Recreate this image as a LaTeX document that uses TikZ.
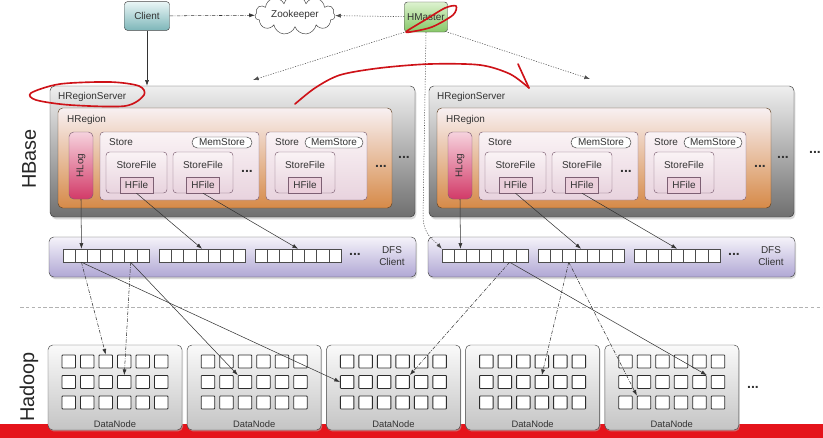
\documentclass[tikz,border=0pt]{standalone}
\usepackage{fontspec}
\setmainfont{Liberation Sans}
\usetikzlibrary{arrows.meta, positioning, calc, fit, shadows, shapes.symbols}

\definecolor{cliTop}{HTML}{EAF6F6}
\definecolor{cliBot}{HTML}{7DB6B9}
\definecolor{hmTop}{HTML}{DDF2CF}
\definecolor{hmBot}{HTML}{86C767}
\definecolor{srvTop}{HTML}{EFEFEF}
\definecolor{srvBot}{HTML}{6F6F6F}
\definecolor{regTop}{HTML}{F8F0F2}
\definecolor{regBot}{HTML}{D68A48}
\definecolor{stEdge}{HTML}{7D5F73}
\definecolor{stTop}{HTML}{FAF3F5}
\definecolor{stBot}{HTML}{E8D3DE}
\definecolor{hfFill}{HTML}{EBCFDB}
\definecolor{logTop}{HTML}{F6D2DD}
\definecolor{logBot}{HTML}{D23A68}
\definecolor{dfsTop}{HTML}{F5F3FA}
\definecolor{dfsBot}{HTML}{B0A7D4}
\definecolor{dnTop}{HTML}{FAFAFA}
\definecolor{dnBot}{HTML}{C4C4C4}
\definecolor{inkGray}{HTML}{333333}
\definecolor{barRed}{HTML}{E5141B}

\begin{document}
\begin{tikzpicture}[x=0.3mm, y=-0.3mm,
    every node/.style={font=\fontsize{8.5}{10}\selectfont, text=inkGray},
    topbox/.style={rectangle, rounded corners=2.5pt, draw=gray!55!black, minimum height=8.6mm, inner sep=0pt},
    srvbox/.style={rectangle, rounded corners=4pt, draw=gray!45!black, top color=srvTop, bottom color=srvBot, inner sep=0pt, drop shadow={shadow xshift=0.4mm, shadow yshift=-0.7mm, fill=gray!50, opacity=0.6}},
    regbox/.style={rectangle, rounded corners=4pt, draw=brown!50!black, top color=regTop, bottom color=regBot, inner sep=0pt},
    storebox/.style={rectangle, rounded corners=3pt, draw=stEdge, top color=stTop, bottom color=stBot, inner sep=0pt},
    hfbox/.style={rectangle, draw=stEdge, fill=hfFill, inner sep=0pt},
    hlogbox/.style={rectangle, rounded corners=4pt, draw=stEdge, top color=logTop, bottom color=logBot, inner sep=0pt},
    memst/.style={rectangle, rounded corners=1.6mm, draw=inkGray, fill=white, minimum height=3.3mm, inner sep=0pt},
    dfsbox/.style={rectangle, rounded corners=4pt, draw=gray!50!black, top color=dfsTop, bottom color=dfsBot, inner sep=0pt, drop shadow={shadow xshift=0.3mm, shadow yshift=-0.6mm, fill=gray!50, opacity=0.6}},
    cell/.style={rectangle, draw=gray!60!black, fill=white, minimum width=3.69mm, minimum height=3.9mm, inner sep=0pt},
    dnbox/.style={rectangle, rounded corners=4pt, draw=gray!55!black, top color=dnTop, bottom color=dnBot, inner sep=0pt, drop shadow={shadow xshift=0.3mm, shadow yshift=-0.4mm, fill=gray!50, opacity=0.5}},
    dnsq/.style={rectangle, rounded corners=0.6pt, draw=gray!35!black, fill=white, line width=0.7pt, minimum width=4.05mm, minimum height=3.9mm, inner sep=0pt},
    dots/.style={font=\bfseries\fontsize{12}{12}\selectfont},
    link/.style={-{Latex[length=1.7mm, width=1.2mm]}, draw=black!80, line width=0.45pt},
    dashlink/.style={link, dash pattern=on 3pt off 1.2pt on 0.6pt off 1.2pt},
    dotlink/.style={link, draw=gray!60!black, dash pattern=on 1pt off 1.2pt},
    redpen/.style={draw=barRed!90!black, line width=1.4pt, line cap=round, line join=round}
  ]
  \useasboundingbox (0,0) rectangle (823,438);

  % top row
  \node[topbox, minimum width=13.5mm, top color=cliTop, bottom color=cliBot] (client) at (147,16) {Client};
  \node[cloud, cloud puffs=11, aspect=2.6, draw=gray!50!black, fill=white, minimum width=24mm, minimum height=8.5mm, inner sep=0pt] (zk) at (295,15) {Zookeeper};
  \node[topbox, minimum width=12.9mm, minimum height=9mm, top color=hmTop, bottom color=hmBot] (hmaster) at (426,17) {HMaster};

  % side labels
  \node[rotate=90, font=\fontsize{17}{17}\selectfont, text=gray!30!black] (hbaseLbl) at (29,159) {HBase};
  \node[rotate=90, font=\fontsize{17}{17}\selectfont, text=gray!30!black] (hadoopLbl) at (29,387) {Hadoop};

  \foreach \s/\dx in {L/0, R/379} {
    % region server
    \node[srvbox, fit={(50+\dx,86) (415+\dx,217)}] (srv\s) {};
    \node[anchor=west] (srvLbl\s) at (54+\dx,97) {HRegionServer};
    \node[regbox, fit={(58+\dx,108) (392+\dx,208)}] (reg\s) {};
    \node[anchor=west] (regLbl\s) at (63+\dx,120) {HRegion};
    \node[hlogbox, fit={(69+\dx,132) (93+\dx,199)}] (hlog\s) {};
    \node[rotate=90] (hlogLbl\s) at (hlog\s) {HLog};
    % stores
    \node[storebox, fit={(100+\dx,132) (259+\dx,200)}] (stA\s) {};
    \node[anchor=west] (stALbl\s) at (105+\dx,142) {Store};
    \node[memst, minimum width=18mm] (msA\s) at (222+\dx,142.5) {MemStore};
    \node[storebox, fit={(266+\dx,132) (367+\dx,200)}] (stB\s) {};
    \node[anchor=west] (stBLbl\s) at (271+\dx,142) {Store};
    \node[memst, minimum width=17.4mm] (msB\s) at (334+\dx,142.5) {MemStore};
    \foreach \f/\a/\b in {A/106/167, B/173/233, C/275/335} {
      \node[storebox, fit={(\a+\dx,152) (\b+\dx,193)}] (sf\f\s) {};
      \node (sfLbl\f\s) at ({(\a+\b)/2+\dx},165) {StoreFile};
      \node[hfbox, fit={({(\a+\b)/2-16.5+\dx},177) ({(\a+\b)/2+16.5+\dx},193)}] (hf\f\s) {};
      \node (hfLbl\f\s) at (hf\f\s) {HFile};
    }
    \node[dots] (dotsA\s) at (247+\dx,171) {...};
    \node[dots] (dotsB\s) at (381+\dx,166) {...};
    \node[dots] (dotsC\s) at (404+\dx,157) {...};

    % DFS client
    \node[dfsbox, fit={(49+\dx,237) (416+\dx,277)}] (dfs\s) {};
    \foreach \g in {0,1,2}
      \foreach \c in {0,...,6}
        \node[cell] (cell\s\g\c) at ({63+\dx+\g*96+\c*12.3+6.15},255.5) {};
    \node[dots] (dotsD\s) at (355+\dx,254) {...};
    \node[align=center] (dfsLbl\s) at (392+\dx,256) {DFS\\Client};

    \draw[link] (hlog\s.south) -- (cell\s01.north);
    \draw[link] (hfA\s.south) -- (cell\s13.north);
    \draw[link] (hfB\s.south) -- (cell\s23.north);
  }
  \node[dots] (dotsSrv) at (815,152) {...};

  % separator
  \draw[gray!60, dash pattern=on 3pt off 2pt, line width=0.6pt] (20,307) -- (823,307);

  % red bar
  \fill[barRed] (0,424) rectangle (823,438);

  % data nodes
  \foreach \i in {0,...,4} {
    \node[dnbox, fit={(48+\i*139.2,345) (182+\i*139.2,430)}] (dn\i) {};
    \node[font=\fontsize{8}{9}\selectfont] (dnLbl\i) at (115+\i*139.2,424) {DataNode};
    \foreach \k in {0,1,2}
      \foreach \j in {0,...,5}
        \node[dnsq] (sq\i\k\j) at ({62+\i*139.2+\j*18.5+6.75},{361.5+\k*20.5}) {};
  }
  \node[dots] (dotsDn) at (753,387) {...};

  % top connectors
  \draw[dashlink, draw=gray!40!black] (client) -- (zk);
  \draw[dotlink] (hmaster) -- (zk);
  \draw[link] (client.south) -- (client.south |- srvL.north);
  \coordinate (tipL) at (253,80);
  \coordinate (tipR) at (590,79);
  \draw[dotlink] (hmaster.south west) -- (tipL);
  \draw[dotlink] (hmaster.south east) -- (tipR);
  \draw[dotlink] (hmaster.south) -- ++(-3,185) .. controls (424,236) and (434,240) .. (cellR00.north west);

  % DFS client to data nodes
  \draw[dashlink] (cellL01.south) -- (sq002.north);
  \draw[link] (cellL01.south) -- (sq210.west);
  \draw[dashlink] (cellL05.south) -- (sq013.north);
  \draw[link] (cellL05.south) -- (sq112.north west);
  \draw[dashlink] (cellR05.south) -- (sq213.north east);
  \draw[link] (cellR05.south) -- (sq414.north east);
  \draw[dashlink] (cellR12.south) -- (sq313.north);
  \draw[dashlink] (cellR12.south) -- (sq421.north west);

  % red pen marks
  \draw[redpen] plot[smooth cycle] coordinates {(31,93) (60,84) (110,82) (139,86) (144,95) (125,106) (70,105) (36,100)};
  \draw[redpen] plot[smooth] coordinates {(295,104) (315,88) (340,75) (380,68) (430,64) (480,65) (510,74) (529,88)};
  \draw[redpen] (518,64) -- (529,88);
  \draw[redpen] plot[smooth cycle] coordinates {(407,31) (425,20) (445,8) (456,6) (453,15) (432,27) (410,32)};
\end{tikzpicture}
\end{document}
